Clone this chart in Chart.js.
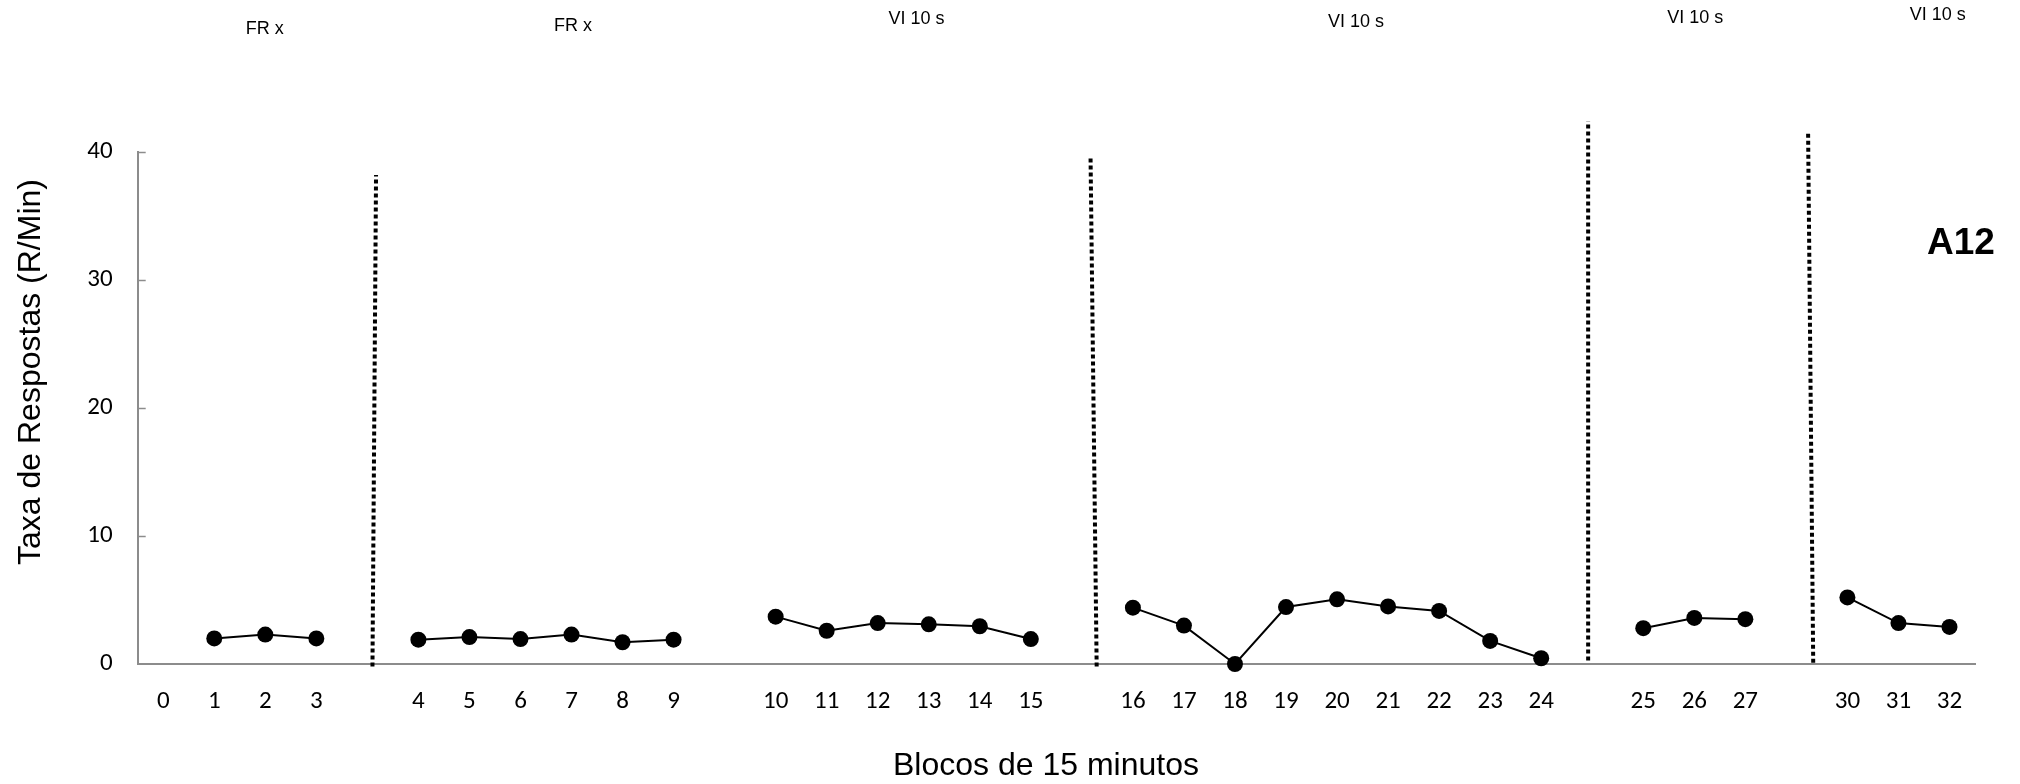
<!DOCTYPE html>
<html>
<head>
<meta charset="utf-8">
<script src="https://cdn.jsdelivr.net/npm/chart.js@4/dist/chart.umd.min.js"></script>
<style>
  html, body { margin: 0; padding: 0; background: #fff; }
  #wrap { width: 2020px; height: 784px; }
</style>
</head>
<body>
<div id="wrap"><canvas id="c" width="2020" height="784"></canvas></div>
<script>
// Session blocks (blank slots separate the experimental phases)
const categories = ['0','1','2','3','','4','5','6','7','8','9','','10','11','12','13','14','15','','16','17','18','19','20','21','22','23','24','','25','26','27','','30','31','32'];
// Response rate per 15-minute block (responses per minute)
const rates = [null,2.0,2.3,2.0,null,1.9,2.1,1.95,2.3,1.7,1.9,null,3.7,2.6,3.2,3.1,2.95,1.95,null,4.4,3.0,0.0,4.45,5.05,4.5,4.15,1.8,0.45,null,2.8,3.6,3.5,null,5.2,3.2,2.9];
// Y axis ticks
const yTicks = [0, 10, 20, 30, 40];
// Phase names above each condition
const phaseNames = ['FR x', 'FR x', 'VI 10 s', 'VI 10 s', 'VI 10 s', 'VI 10 s'];
// Phase-change lines: category position at bottom/top and value reached at top
const phaseChangeX = [[4.10, 4.17], [18.29, 18.17], [27.92, 27.92], [32.33, 32.23]];
const phaseChangeTop = [38.2, 39.6, 42.4, 41.45];
const phaseChangeBottom = [-0.2, -0.2, 0.27, 0.1];

const subjectId = 'A12';
const yTitle = 'Taxa de Respostas (R/Min)';
const xTitle = 'Blocos de 15 minutos';

// Where the phase names sit: category position and pixel height from the top
const phaseNamePos = [[1.99, 29], [8.03, 26.5], [14.76, 19], [23.37, 22], [30.02, 18], [34.77, 15]];

const AXIS_GREY = '#8c8c8c';
const TICK_FONT = '"Carlito", "Lato", sans-serif';
const TEXT_FONT = '"Liberation Sans", Arial, sans-serif';

const decorations = {
  id: 'decorations',
  afterDatasetsDraw(chart) {
    const { ctx, scales: { x, y }, chartArea } = chart;
    ctx.save();

    // inner tick marks on the value axis
    ctx.strokeStyle = AXIS_GREY;
    ctx.lineWidth = 1.5;
    yTicks.forEach(v => {
      if (v === 0) return;
      const py = Math.round(y.getPixelForValue(v)) + 0.5;
      ctx.beginPath();
      ctx.moveTo(chartArea.left, py);
      ctx.lineTo(chartArea.left + 8, py);
      ctx.stroke();
    });

    // dotted phase-change lines
    ctx.strokeStyle = '#000';
    ctx.lineWidth = 4;
    ctx.setLineDash([4, 3]);
    phaseChangeX.forEach((pair, i) => {
      ctx.beginPath();
      ctx.moveTo(x.getPixelForValue(pair[0]), y.getPixelForValue(phaseChangeBottom[i]));
      ctx.lineTo(x.getPixelForValue(pair[1]), y.getPixelForValue(phaseChangeTop[i]));
      ctx.stroke();
    });
    ctx.setLineDash([]);

    // phase names
    ctx.fillStyle = '#000';
    ctx.font = '18px ' + TEXT_FONT;
    ctx.textAlign = 'center';
    ctx.textBaseline = 'middle';
    phaseNames.forEach((name, i) => {
      const [cx, py] = phaseNamePos[i];
      ctx.fillText(name, x.getPixelForValue(cx), py);
    });

    // subject identifier
    ctx.font = 'bold 37px ' + TEXT_FONT;
    ctx.fillText(subjectId, 1961, 244);

    // axis titles
    ctx.font = '32px ' + TEXT_FONT;
    ctx.textBaseline = 'alphabetic';
    ctx.fillText(xTitle, 1046, 775);

    ctx.translate(31.6, 372);
    ctx.rotate(-Math.PI / 2);
    ctx.font = '32px ' + TEXT_FONT;
    ctx.textBaseline = 'middle';
    ctx.fillText(yTitle, 0, 0);

    ctx.restore();
  }
};

new Chart(document.getElementById('c'), {
  type: 'line',
  data: {
    labels: categories,
    datasets: [{
      data: rates,
      borderColor: '#000',
      borderWidth: 2,
      backgroundColor: '#000',
      pointBackgroundColor: '#000',
      pointBorderWidth: 0,
      pointRadius: 8,
      pointHoverRadius: 8,
      spanGaps: false,
      tension: 0,
      clip: false
    }]
  },
  options: {
    responsive: false,
    animation: false,
    devicePixelRatio: 1,
    layout: { padding: { top: 152, right: 45, left: 0, bottom: 0 } },
    plugins: { legend: { display: false }, tooltip: { enabled: false } },
    scales: {
      x: {
        type: 'category',
        offset: true,
        grid: { display: false, drawTicks: false },
        border: { display: true, color: AXIS_GREY, width: 2 },
        ticks: {
          autoSkip: false,
          maxRotation: 0,
          padding: 22.5,
          color: '#000',
          font: { family: TICK_FONT, size: 25 }
        },
        afterFit(scale) { scale.height = 120; }
      },
      y: {
        min: 0,
        max: 40,
        grid: { display: false, drawTicks: false },
        border: { display: true, color: AXIS_GREY, width: 2 },
        ticks: {
          stepSize: 10,
          padding: 25,
          color: '#000',
          font: { family: TICK_FONT, size: 25 }
        },
        afterFit(scale) { scale.width = 137.7; }
      }
    }
  },
  plugins: [decorations]
});
</script>
</body>
</html>
